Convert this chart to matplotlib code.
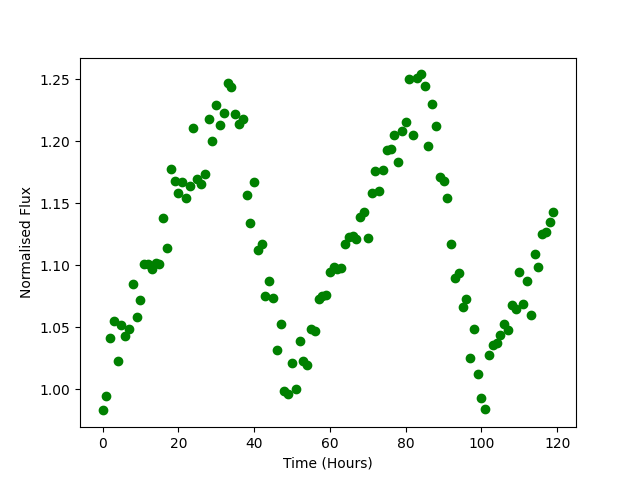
import matplotlib
matplotlib.use("Agg")
import matplotlib.pyplot as plt
import numpy as np

hours = np.arange(120)
flux = [0.983, 0.995, 1.041, 1.055, 1.023, 1.052, 1.043, 1.049, 1.085, 1.058,
        1.072, 1.101, 1.101, 1.097, 1.102, 1.101, 1.138, 1.114, 1.178, 1.168,
        1.158, 1.167, 1.154, 1.164, 1.211, 1.170, 1.166, 1.174, 1.218, 1.200,
        1.229, 1.213, 1.223, 1.247, 1.244, 1.222, 1.214, 1.218, 1.157, 1.134,
        1.167, 1.112, 1.117, 1.075, 1.087, 1.074, 1.032, 1.053, 0.999, 0.996,
        1.021, 1.000, 1.039, 1.023, 1.020, 1.049, 1.047, 1.073, 1.075, 1.076,
        1.095, 1.099, 1.097, 1.098, 1.117, 1.123, 1.124, 1.121, 1.139, 1.143,
        1.122, 1.158, 1.176, 1.160, 1.177, 1.193, 1.194, 1.205, 1.183, 1.208,
        1.216, 1.250, 1.205, 1.251, 1.254, 1.245, 1.196, 1.230, 1.212, 1.171,
        1.168, 1.154, 1.117, 1.090, 1.094, 1.066, 1.073, 1.025, 1.049, 1.012,
        0.993, 0.984, 1.028, 1.036, 1.037, 1.044, 1.053, 1.048, 1.068, 1.065,
        1.095, 1.069, 1.087, 1.060, 1.109, 1.099, 1.125, 1.127, 1.135, 1.143]

fig, ax = plt.subplots(figsize=(6.4, 4.8), dpi=100)
ax.plot(hours, flux, 'o', color='green')
ax.set_xlabel('Time (Hours)')
ax.set_ylabel('Normalised Flux')
fig.savefig('out.png')
